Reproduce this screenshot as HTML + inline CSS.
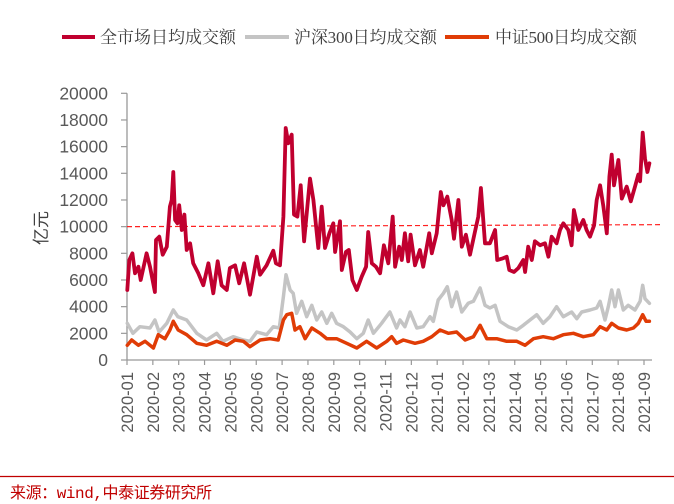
<!DOCTYPE html>
<html><head><meta charset="utf-8"><style>
html,body{margin:0;padding:0;background:#fff;}
svg{display:block;}
</style></head><body>
<svg id="chart" width="674" height="504" viewBox="0 0 674 504" xmlns="http://www.w3.org/2000/svg">
<g id="legend" font-family="'Liberation Serif','Noto Serif CJK SC',serif" font-size="17" fill="#404040">
  <g>
    <line x1="62" y1="37" x2="95" y2="37" stroke="#c0002f" stroke-width="4"/>
    <text x="100" y="43" textLength="136">全市场日均成交额</text>
  </g>
  <g>
    <line x1="245" y1="37" x2="289" y2="37" stroke="#c4c4c4" stroke-width="4"/>
    <text x="294" y="43" textLength="143">沪深300日均成交额</text>
  </g>
  <g>
    <line x1="445" y1="37" x2="489" y2="37" stroke="#e03c06" stroke-width="4"/>
    <text x="495" y="43" textLength="142">中证500日均成交额</text>
  </g>
</g>
<g id="axes"></g>
<g id="plot"></g>
<text transform="translate(47,228) rotate(-90)" text-anchor="middle" font-family="'Liberation Sans','Noto Sans CJK SC',sans-serif" font-size="17" fill="#404040">亿元</text>
<line x1="0" y1="476.5" x2="674" y2="476.5" stroke="#c00000" stroke-width="1.2"/>
<text x="10" y="498" font-family="'Liberation Mono','Noto Sans CJK SC',monospace" font-size="16" fill="#c00000" textLength="202">来源：wind,中泰证券研究所</text>
</svg>
<script>
const monthLabels = ["2020-01","2020-02","2020-03","2020-04","2020-05","2020-06","2020-07","2020-08","2020-09","2020-10","2020-11","2020-12","2021-01","2021-02","2021-03","2021-04","2021-05","2021-06","2021-07","2021-08","2021-09"];
const yTicks = [0,2000,4000,6000,8000,10000,12000,14000,16000,18000,20000];
const refLevel = 10000;
const allMonths = [0.01,0.09,0.21,0.31,0.44,0.53,0.76,0.89,1.08,1.12,1.25,1.38,1.54,1.66,1.73,1.79,1.86,1.95,2.02,2.12,2.22,2.31,2.44,2.56,2.76,2.95,3.15,3.34,3.51,3.66,3.86,3.98,4.18,4.34,4.53,4.76,5.02,5.15,5.40,5.66,5.76,5.92,6.05,6.14,6.24,6.37,6.46,6.59,6.72,6.85,7.08,7.21,7.40,7.53,7.66,7.83,7.98,8.05,8.24,8.31,8.47,8.58,8.72,8.89,9.08,9.25,9.33,9.47,9.63,9.79,9.94,10.11,10.28,10.37,10.53,10.63,10.75,10.88,10.97,11.14,11.33,11.46,11.69,11.79,11.98,12.14,12.24,12.39,12.56,12.65,12.82,12.95,13.11,13.27,13.46,13.59,13.69,13.85,14.04,14.24,14.32,14.50,14.69,14.79,14.97,15.14,15.33,15.40,15.52,15.66,15.78,15.98,16.17,16.30,16.43,16.62,16.75,16.88,17.07,17.20,17.29,17.46,17.65,17.78,17.91,18.07,18.17,18.30,18.43,18.56,18.66,18.75,18.84,19.01,19.14,19.33,19.49,19.65,19.78,19.85,19.95,20.04,20.13,20.21];
const allValues = [5250,7500,8000,6500,7000,6000,8000,7000,5100,9000,9250,7900,8500,11500,12000,14100,10500,10250,11600,9750,10900,8250,8750,7250,6500,5600,7250,5000,7400,5600,5250,6900,7100,5750,7250,4900,7750,6400,7100,8200,7250,7100,10750,17400,16250,16900,10900,10750,13100,8900,13600,12000,8400,11500,8400,9500,10250,8100,10400,6750,8100,8250,6000,5250,6250,7000,9600,7250,7000,6500,8600,7250,10750,7000,8500,7500,9500,7400,9400,7100,8250,7000,9500,8000,9500,12600,11600,12250,10500,9100,12000,8500,9400,7900,9600,10750,12900,8750,8750,9750,7500,7600,7750,6750,6600,6900,7500,6600,8500,7500,8900,8600,8750,7750,9250,8750,9750,10250,9750,8600,11250,9750,10500,9750,9250,10100,12000,13100,11500,9500,13750,15400,13100,15000,12100,13000,11900,13000,13900,13400,17050,15100,14100,14750];
const hs300Months = [0.01,0.23,0.50,0.89,1.08,1.24,1.54,1.79,1.97,2.31,2.70,3.08,3.47,3.71,4.11,4.50,4.76,5.02,5.40,5.66,5.89,6.05,6.15,6.31,6.43,6.56,6.76,6.95,7.15,7.34,7.53,7.73,7.92,8.11,8.37,8.63,8.89,9.14,9.33,9.53,9.85,10.17,10.43,10.56,10.75,10.95,11.21,11.46,11.72,11.85,12.04,12.24,12.39,12.56,12.75,12.95,13.20,13.40,13.66,13.85,14.04,14.24,14.43,14.75,15.08,15.33,15.59,15.85,16.10,16.36,16.62,16.88,17.20,17.40,17.59,17.91,18.17,18.30,18.49,18.62,18.75,18.88,19.01,19.20,19.39,19.65,19.85,19.95,20.04,20.21];
const hs300Values = [2750,2000,2500,2400,3000,2100,2750,3750,3250,3000,2000,1500,2000,1400,1750,1500,1400,2100,1900,2500,2400,4750,6400,5250,5000,3500,4400,3250,4100,3000,3600,2750,3500,2750,2500,2100,1600,2000,3000,2000,2750,3600,2400,3000,2500,3600,2400,2500,3250,2900,4500,5000,5500,4000,5100,3600,4250,4400,5400,4100,3900,4100,2900,2500,2250,2600,3000,3400,2750,3250,4000,3250,3600,3100,3600,3750,3900,4400,3000,4000,5250,4000,5250,3750,4100,3750,4400,5600,4600,4250];
const zz500Months = [0.01,0.18,0.44,0.70,1.02,1.21,1.47,1.66,1.79,1.98,2.31,2.70,3.08,3.47,3.86,4.18,4.50,4.76,5.15,5.53,5.85,6.05,6.18,6.37,6.50,6.69,6.89,7.15,7.47,7.73,8.11,8.50,8.89,9.27,9.66,10.05,10.24,10.43,10.69,11.14,11.46,11.79,12.11,12.43,12.75,13.08,13.40,13.66,13.92,14.30,14.69,15.08,15.40,15.72,16.10,16.49,16.88,17.27,17.65,18.04,18.30,18.56,18.75,19.01,19.33,19.59,19.78,19.95,20.08,20.21];
const zz500Values = [1100,1500,1100,1400,900,1900,1600,2250,2900,2250,1900,1250,1100,1400,1100,1500,1400,1000,1500,1600,1500,3000,3400,3500,2250,2500,1600,2400,2000,1600,1600,1250,900,1400,900,1400,1750,1250,1500,1250,1400,1750,2250,2000,2100,1500,1750,2600,1600,1600,1400,1400,1100,1600,1750,1600,1900,2000,1750,1900,2500,2250,2750,2400,2250,2400,2750,3400,2900,2900];

const NS="http://www.w3.org/2000/svg";
const X0=127, XSTEP=25.85, Y0=360, YTOP=93.3, YMAX=20000, XEND=652;
function xScale(m){return X0+m*XSTEP;}
function yScale(v){return Y0-(v/YMAX)*(Y0-YTOP);}
function mk(tag,attrs,parent){const e=document.createElementNS(NS,tag);for(const k in attrs)e.setAttribute(k,attrs[k]);parent.appendChild(e);return e;}

const axes=document.getElementById('axes');
const plot=document.getElementById('plot');
const yAxis=mk('line',{x1:X0,y1:YTOP,x2:X0,y2:Y0,stroke:'#999','stroke-width':1.3},axes);


const xAxis=mk('line',{x1:X0,y1:Y0,x2:XEND,y2:Y0,stroke:'#999','stroke-width':1.3},axes);


yTicks.forEach(v=>{
  const y=yScale(v);
  const t=mk('line',{x1:X0-6,y1:y,x2:X0,y2:y,stroke:'#999','stroke-width':1.2},axes);
  
  
  const l=mk('text',{x:108,y:y+6,'text-anchor':'end','font-family':"'Liberation Sans',sans-serif",'font-size':17.5,fill:'#595959'},axes);
  l.textContent=String(v);
  
  
});
monthLabels.forEach((lab,i)=>{
  const x=xScale(i);
  const t=mk('line',{x1:x,y1:Y0,x2:x,y2:Y0+5,stroke:'#999','stroke-width':1.2},axes);
  
  
  const l=mk('text',{transform:`translate(${x+6},${Y0+12}) rotate(-90)`,'text-anchor':'end','font-family':"'Liberation Sans',sans-serif",'font-size':16.5,fill:'#595959'},axes);
  l.textContent=lab;
  
  
});
const ref=mk('line',{x1:X0,y1:yScale(refLevel),x2:662,y2:yScale(refLevel+150),stroke:'#ff2020','stroke-width':1.2,'stroke-dasharray':'5,3'},plot);


function series(ms,vs,color,w,name){
  const n=Math.min(ms.length,vs.length);
  let d='';
  for(let i=0;i<n;i++){d+=(i?'L':'M')+xScale(ms[i]).toFixed(1)+','+yScale(vs[i]).toFixed(1);}
  const p=mk('path',{d:d,fill:'none',stroke:color,'stroke-width':w,'stroke-linejoin':'round','stroke-linecap':'round'},plot);
  
  
}
series(hs300Months,hs300Values,'#c4c4c4',3.5,'series-hs300');
series(zz500Months,zz500Values,'#e03c06',3.5,'series-zz500');
series(allMonths,allValues,'#c0002f',3.8,'series-all-market');
</script>
</body></html>
